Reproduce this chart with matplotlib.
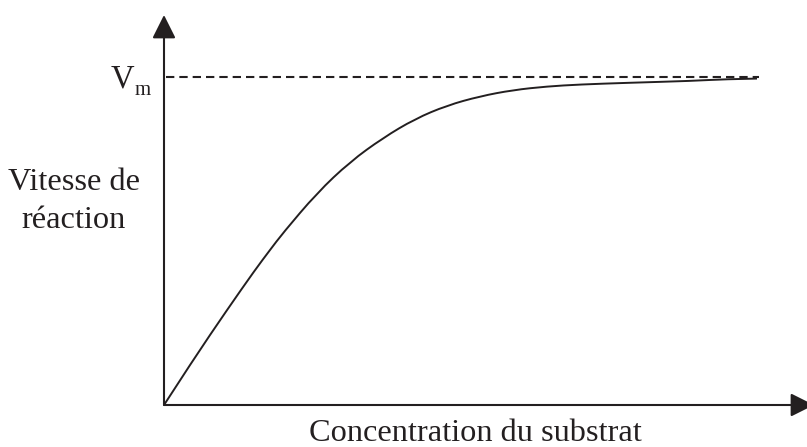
import matplotlib.pyplot as plt
from matplotlib.path import Path
from matplotlib.patches import PathPatch

# courbe de Michaelis, v normalisée par Vm
conc = [0, 0.29, 0.63, 0.91, 1.06, 1.19, 1.53, 1.86, 2.19, 2.51, 2.83, 3.16,
        3.49, 3.83, 4.16, 4.63, 5.29, 5.59, 5.93]
vitesse = [0, 0.137, 0.290, 0.412, 0.473, 0.525, 0.647, 0.742, 0.815, 0.873,
           0.914, 0.942, 0.961, 0.972, 0.978, 0.983, 0.989, 0.994, 0.996]
vm = 1.0

ink = '#231f20'
plt.rcParams['font.family'] = ['Liberation Serif', 'DejaVu Serif']

fig = plt.figure(figsize=(8.07, 4.47), dpi=100)
ax = fig.add_axes([164 / 807, 42 / 447, 643 / 807, 390 / 447])
ax.set_xlim(0, 6.43)
ax.set_ylim(0, 1.19)
ax.axis('off')

# axes avec fleches
arrow = dict(arrowstyle='-|>,head_length=0.8,head_width=0.4', mutation_scale=18,
             lw=1.5, color=ink, shrinkA=0, shrinkB=0)
ax.annotate('', xy=(0, 1.19), xytext=(0, 0), arrowprops=arrow, annotation_clip=False)
ax.annotate('', xy=(6.50, 0), xytext=(0, 0), arrowprops=arrow, annotation_clip=False)

ax.plot([0.02, 5.95], [vm, vm], color=ink, lw=1.5, ls=(0, (4, 2.4)))

# trace lisse : points lus comme sommets de controle (courbes quadratiques)
pts = list(zip(conc, vitesse))
verts = [pts[0]]
codes = [Path.MOVETO]
for i in range(1, len(pts) - 1):
    if i < len(pts) - 2:
        end = ((pts[i][0] + pts[i + 1][0]) / 2, (pts[i][1] + pts[i + 1][1]) / 2)
    else:
        end = pts[i + 1]
    verts += [pts[i], end]
    codes += [Path.CURVE3, Path.CURVE3]
ax.add_patch(PathPatch(Path(verts, codes), facecolor='none', edgecolor=ink, lw=1.4))

fig.text(111 / 807, 1 - 87 / 447, 'V', fontsize=23.5, color=ink, va='baseline', ha='left')
fig.text(135 / 807, 1 - 95 / 447, 'm', fontsize=15, color=ink, va='baseline', ha='left')
fig.text(74 / 807, 1 - 190 / 447, 'Vitesse de', fontsize=23.3, color=ink,
         va='baseline', ha='center')
fig.text(74 / 807, 1 - 228 / 447, 'réaction', fontsize=23.3, color=ink,
         va='baseline', ha='center')
fig.text(475 / 807, 1 - 441 / 447, 'Concentration du substrat', fontsize=23.3,
         color=ink, va='baseline', ha='center')

fig.savefig('out.png', dpi=100)
